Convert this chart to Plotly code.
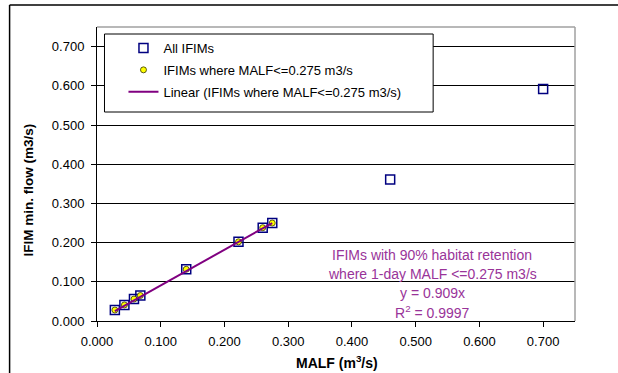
import plotly.graph_objects as go

# Data
all_malf = [0.028, 0.043, 0.058, 0.068, 0.140, 0.222, 0.260, 0.275, 0.460, 0.700]
all_min = [0.028, 0.041, 0.056, 0.065, 0.132, 0.202, 0.238, 0.250, 0.361, 0.592]
sub_malf = [0.028, 0.043, 0.058, 0.068, 0.140, 0.222, 0.260, 0.275]
sub_min = [0.028, 0.041, 0.056, 0.065, 0.132, 0.202, 0.238, 0.250]
slope = 0.909
fit_x = [min(sub_malf), max(sub_malf)]
fit_y = [slope * v for v in fit_x]
tick_vals = [0.0, 0.1, 0.2, 0.3, 0.4, 0.5, 0.6, 0.7]

FONT = "Liberation Sans, Arial, sans-serif"
PURPLE_TXT = "#993399"
PURPLE_LINE = "#800080"

W, H = 618, 373
L, R, T, B = 96.5, 575.0, 27.0, 321.0
pw, ph = R - L, B - T


def px(x):
    return (x - L) / pw


def py(y):
    return (B - y) / ph


fig = go.Figure()
fig.add_trace(go.Scatter(
    x=all_malf, y=all_min, mode="markers", name="All IFIMs",
    legendgroup="a",
    marker=dict(symbol="square-open", size=9, color="#000080",
                line=dict(width=1.5, color="#000080")),
))
fig.add_trace(go.Scatter(
    x=sub_malf, y=sub_min, mode="markers",
    name="IFIMs where MALF<=0.275 m3/s", legendgroup="b",
    marker=dict(symbol="circle", size=6, color="#ffff00",
                line=dict(width=0.8, color="#333300")),
))
fig.add_trace(go.Scatter(
    x=fit_x, y=fit_y, mode="lines",
    name="Linear (IFIMs where MALF<=0.275 m3/s)", legendgroup="c",
    line=dict(color=PURPLE_LINE, width=2),
))

shapes = [
    # outer chart border
    dict(type="line", xref="paper", yref="paper", x0=px(9), x1=px(620),
         y0=py(5), y1=py(5), line=dict(color="black", width=1.5)),
    dict(type="line", xref="paper", yref="paper", x0=px(9), x1=px(9),
         y0=py(5), y1=py(380), line=dict(color="black", width=1.5)),
    # plot area top/right gray border
    dict(type="line", xref="paper", yref="paper", x0=0, x1=1, y0=1, y1=1,
         line=dict(color="#a0a0a0", width=1.5)),
    dict(type="line", xref="paper", yref="paper", x0=1, x1=1, y0=0, y1=1,
         line=dict(color="#a0a0a0", width=1.5)),
    # legend box
    dict(type="rect", xref="paper", yref="paper", x0=px(104), x1=px(433),
         y0=py(112), y1=py(34), fillcolor="white",
         line=dict(color="black", width=1), layer="above"),
]

ann_lines = [
    ("IFIMs with 90% habitat retention", 255),
    ("where 1-day MALF <=0.275 m3/s", 274),
    ("y = 0.909x", 293),
    ("R<sup>2</sup> = 0.9997", 312),
]
annotations = []
for txt, yy in ann_lines:
    annotations.append(dict(
        text=txt, xref="paper", yref="paper", x=px(432), y=py(yy),
        xanchor="center", yanchor="middle", showarrow=False,
        font=dict(family=FONT, size=14, color=PURPLE_TXT),
    ))
annotations.append(dict(
    text="<b>IFIM min. flow (m3/s)</b>", xref="paper", yref="paper",
    x=px(27), y=py(190), xanchor="center", yanchor="middle", textangle=-90,
    showarrow=False, font=dict(family=FONT, size=13.5, color="black"),
))
annotations.append(dict(
    text="<b>MALF (m<sup>3</sup>/s)</b>", xref="paper", yref="paper",
    x=px(337), y=py(362), xanchor="center", yanchor="middle",
    showarrow=False, font=dict(family=FONT, size=14, color="black"),
))

axis_common = dict(
    range=[0, 0.75], tickvals=tick_vals, tickformat=".3f",
    ticks="outside", ticklen=5, tickcolor="black", tickwidth=1,
    showline=True, linecolor="black", linewidth=1,
    zeroline=False,
    tickfont=dict(family=FONT, size=13, color="black"),
)

fig.update_layout(
    width=W, height=H,
    margin=dict(l=L, r=W - R, t=T, b=H - B, pad=0),
    paper_bgcolor="white", plot_bgcolor="white",
    font=dict(family=FONT, size=13, color="black"),
    xaxis=dict(showgrid=False, ticklabelstandoff=3, **axis_common),
    yaxis=dict(showgrid=True, gridcolor="black", gridwidth=1,
               ticklabelstandoff=4, **axis_common),
    showlegend=True,
    legend=dict(
        x=px(123), y=py(33), xanchor="left", yanchor="top",
        bgcolor="rgba(0,0,0,0)", borderwidth=0,
        traceorder="grouped", tracegroupgap=2,
        font=dict(family=FONT, size=13, color="black"),
    ),
    shapes=shapes,
    annotations=annotations,
)

fig.write_html("out.html")
